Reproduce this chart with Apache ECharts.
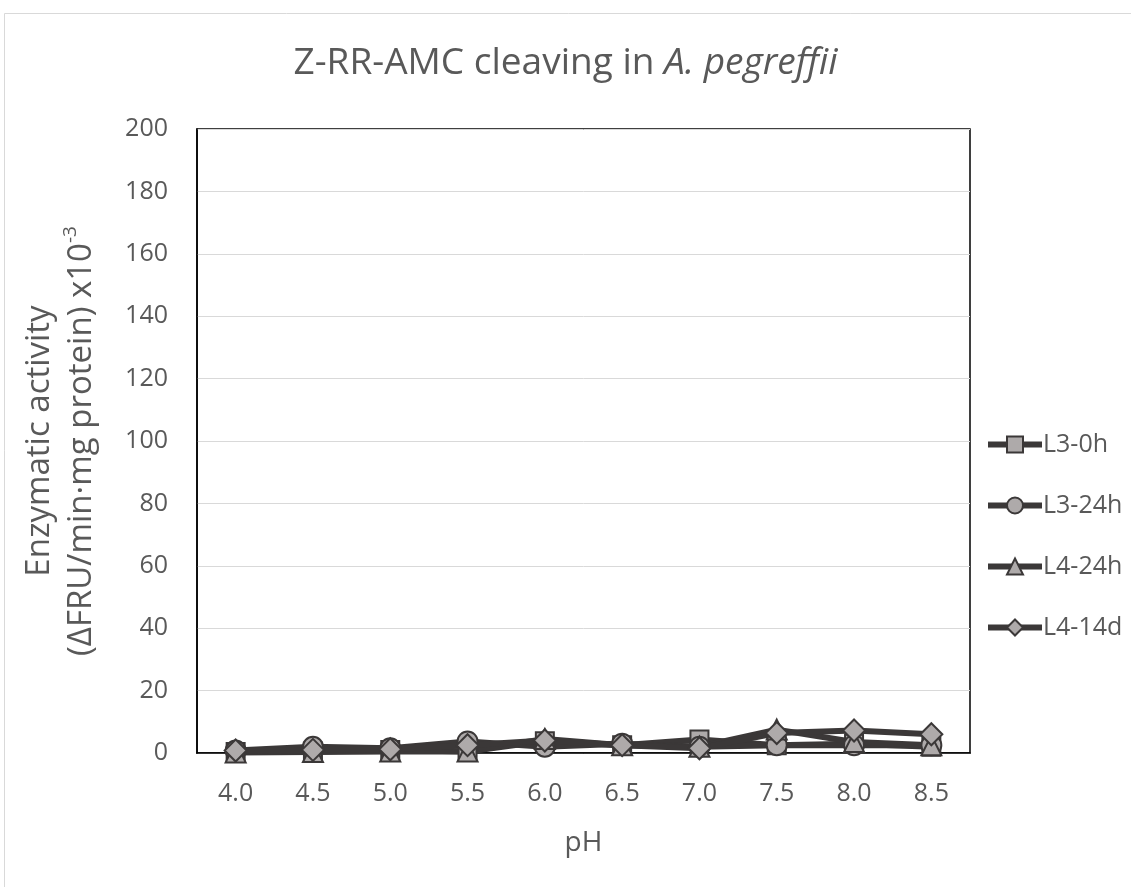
<!DOCTYPE html>
<html>
<head>
<meta charset="utf-8">
<script src="https://cdn.jsdelivr.net/npm/echarts@6/dist/echarts.min.js"></script>
<style>html,body{margin:0;padding:0;background:#fff}#c{width:1131px;height:887px}</style>
</head>
<body>
<div id="c"></div>
<script>
const categories = ['4.0','4.5','5.0','5.5','6.0','6.5','7.0','7.5','8.0','8.5'];
const yTicks = [0,20,40,60,80,100,120,140,160,180,200];
const L3_0h  = [0.3, 0.5, 1.0, 0.5, 3.8, 2.5, 4.3, 2.5, 3.0, 2.0];
const L3_24h = [0.8, 2.0, 1.5, 3.7, 2.0, 3.0, 2.0, 2.5, 2.5, 2.5];
const L4_24h = [0.2, 0.3, 0.5, 0.5, 4.5, 2.5, 2.0, 7.5, 3.5, 2.5];
const L4_14d = [0.8, 1.0, 1.2, 2.5, 4.0, 2.5, 1.5, 6.4, 7.2, 6.0];

const FONT = 'Open Sans';
const TXT = '#595959';
const LINE = '#3b3838';
const FILL = '#aeaaaa';

function mk(name, data, symbol, size) {
  return {
    name, type: 'line', data, symbol, symbolSize: size,
    lineStyle: { color: LINE, width: 6 },
    itemStyle: { color: FILL, borderColor: LINE, borderWidth: 2 },
    emphasis: { disabled: true }
  };
}

const chart = echarts.init(document.getElementById('c'));
chart.setOption({
  animation: false,
  backgroundColor: '#fff',
  graphic: [{
    type: 'rect', shape: { x: 4.5, y: 13.5, width: 1140, height: 900 },
    style: { fill: 'none', stroke: '#d9d9d9', lineWidth: 1 }, silent: true, z: -1
  }, {
    type: 'rect', shape: { x: 197, y: 129, width: 773, height: 624 },
    style: { fill: 'none', stroke: '#000', lineWidth: 1.5 }, silent: true, z: 0
  }],
  title: {
    text: '{n|Z-RR-AMC cleaving in }{i|A. pegreffii}',
    left: 'center', top: 40,
    textStyle: {
      fontWeight: 'normal',
      rich: {
        n: { fontFamily: FONT, fontSize: 37, color: TXT, fontWeight: 'normal' },
        i: { fontFamily: FONT, fontSize: 37, color: TXT, fontStyle: 'italic', fontWeight: 'normal' }
      }
    }
  },
  legend: {
    orient: 'vertical', left: 980, top: 427, itemGap: 36,
    itemWidth: 54, itemHeight: 20,
    lineStyle: { color: LINE, width: 6 },
    textStyle: { fontFamily: FONT, fontSize: 25, color: TXT, padding: [0, 0, 0, -4] },
    data: ['L3-0h', 'L3-24h', 'L4-24h', 'L4-14d']
  },
  grid: { left: 197, right: 161, top: 129, bottom: 134, containLabel: false },
  xAxis: {
    type: 'category', data: categories, boundaryGap: true,
    name: 'pH', nameLocation: 'middle', nameGap: 76,
    nameTextStyle: { fontFamily: FONT, fontSize: 28, color: TXT },
    axisLine: { show: true, onZero: false, lineStyle: { color: '#000', width: 1.5 } },
    axisTick: { show: false },
    axisLabel: { fontFamily: FONT, fontSize: 25, color: TXT, margin: 28 },
    splitLine: { show: false }
  },
  yAxis: {
    type: 'value', min: 0, max: 200, interval: 20,
    name: 'Enzymatic activity\n(ΔFRU/min·mg protein) x10{s|-3}',
    nameLocation: 'middle', nameGap: 94, nameRotate: 90,
    nameTextStyle: {
      fontFamily: FONT, fontSize: 33, color: TXT, lineHeight: 42,
      rich: { s: { fontFamily: FONT, fontSize: 19, color: TXT, verticalAlign: 'top', padding: [0,0,16,0] } }
    },
    axisLine: { show: true, lineStyle: { color: '#000', width: 1.5 } },
    axisTick: { show: false },
    axisLabel: {
      fontFamily: FONT, fontSize: 25, color: TXT, margin: 29,
      formatter: v => yTicks.includes(v) ? String(v) : ''
    },
    splitLine: { show: true, lineStyle: { color: '#d9d9d9', width: 1 } }
  },
  series: [
    mk('L3-0h', L3_0h, 'rect', 18),
    mk('L3-24h', L3_24h, 'circle', 20),
    mk('L4-24h', L4_24h, 'triangle', 20),
    mk('L4-14d', L4_14d, 'diamond', 22)
  ]
});
</script>
</body>
</html>
